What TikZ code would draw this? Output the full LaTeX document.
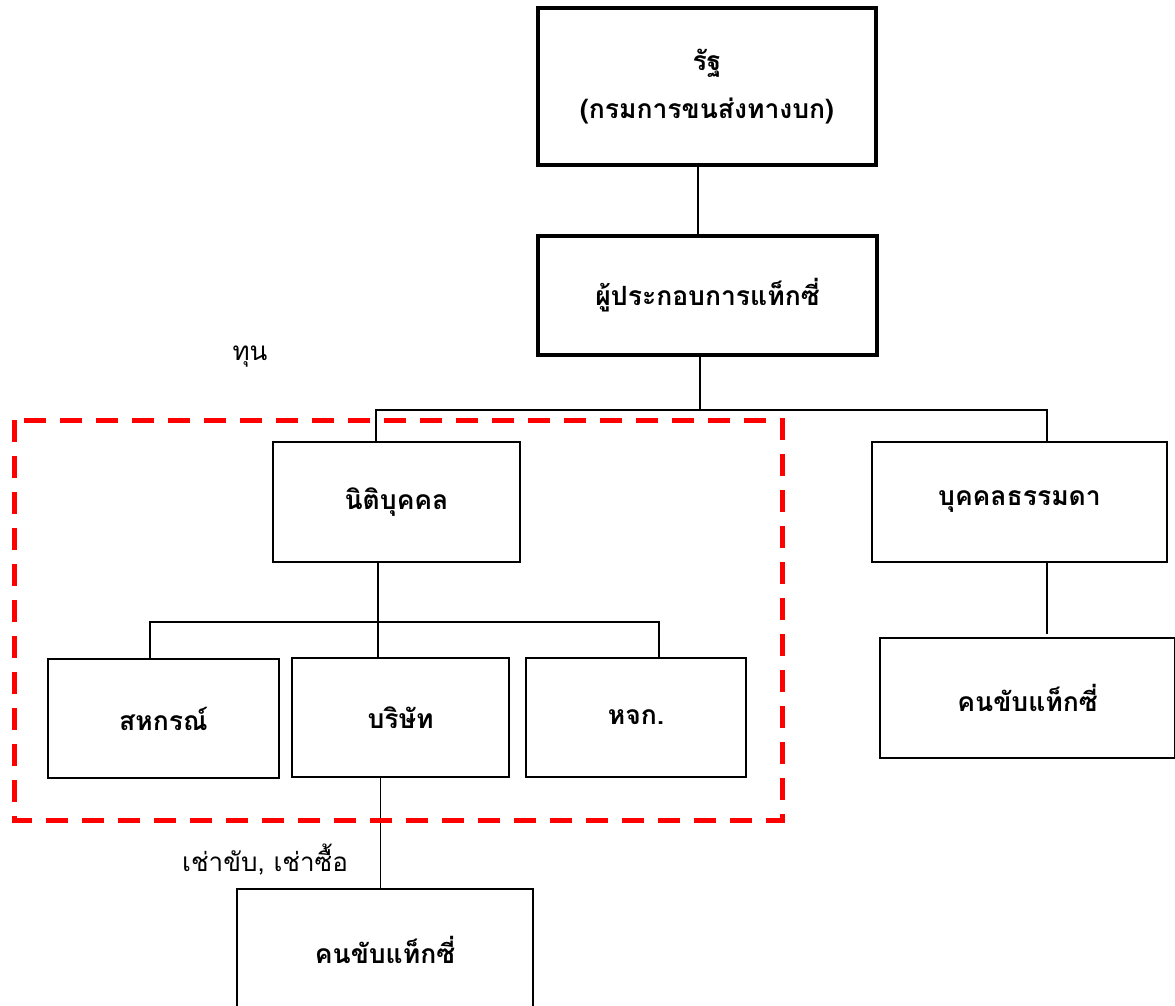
\documentclass[tikz,border=0pt]{standalone}
\usepackage{fontspec}
\setmainfont[Script=Thai]{Loma}
\begin{document}
\begin{tikzpicture}[x=1pt, y=-1pt,
  box/.style={draw, line width=2.5pt, align=center, font=\fontsize{26.5}{48}\selectfont\bfseries},
  headbox/.style={box, line width=4.5pt},
  link/.style={line width=1.4pt},
  lbl/.style={font=\fontsize{26}{30}\selectfont}]
  \useasboundingbox (0,0) rectangle (1175,1006);
  \clip (0,0) rectangle (1175,1006);

  % State and operator
  \node[headbox, minimum width=338, minimum height=157] (rat) at (707,86.5) {รัฐ\\(กรมการขนส่งทางบก)};
  \node[headbox, minimum width=339, minimum height=119] (operator) at (707.5,295.5) {ผู้ประกอบการแท็กซี่};

  % Second level
  \node[box, minimum width=247, minimum height=120] (juristic) at (396.5,502) {นิติบุคคล};
  \node[box, minimum width=295, minimum height=120] (natural) at (1019.5,502) {บุคคลธรรมดา};
  \node[box, minimum width=295, minimum height=120] (driverR) at (1027.5,698) {คนขับแท็กซี่};

  % Juristic persons
  \node[box, minimum width=231, minimum height=119] (coop) at (163.5,718.5) {สหกรณ์};
  \node[box, minimum width=217, minimum height=119] (company) at (400.5,717.5) {บริษัท};
  \node[box, minimum width=220, minimum height=119] (partnership) at (636,717.5) {หจก.};
  \node[box, minimum width=296, minimum height=122] (driverL) at (385,950) {คนขับแท็กซี่};

  % Connectors
  \coordinate (fork) at (700,410);
  \coordinate (forkB) at (378,622);
  \draw[link] ([xshift=-9pt]rat.south) -- ([xshift=-9pt]rat.south |- operator.north);
  \draw[link] (operator.south -| fork) -- (fork);
  \draw[link] ([xshift=-20.5pt]juristic.north) |- ([xshift=27.5pt]natural.north |- fork) -- ([xshift=27.5pt]natural.north);
  \draw[link] ([xshift=27.5pt]natural.south) -- ([xshift=27.5pt,yshift=3pt]natural.south |- driverR.north);
  \draw[link] (juristic.south -| forkB) -- (company.north -| forkB);
  \draw[link] ([xshift=-13.5pt]coop.north) |- (forkB) -| ([xshift=23pt]partnership.north);
  \draw[link] ([xshift=-20pt]company.south) -- ([xshift=-20pt]company.south |- driverL.north);

  % Capital group
  \draw[red, line width=5pt, dash pattern=on 22pt off 14pt] (14,420) rectangle (782,820);

  % Labels
  \node[lbl] (capital) at (250,357) {ทุน};
  \node[lbl] (lease) at (265,860) {เช่าขับ, เช่าซื้อ};
\end{tikzpicture}
\end{document}
